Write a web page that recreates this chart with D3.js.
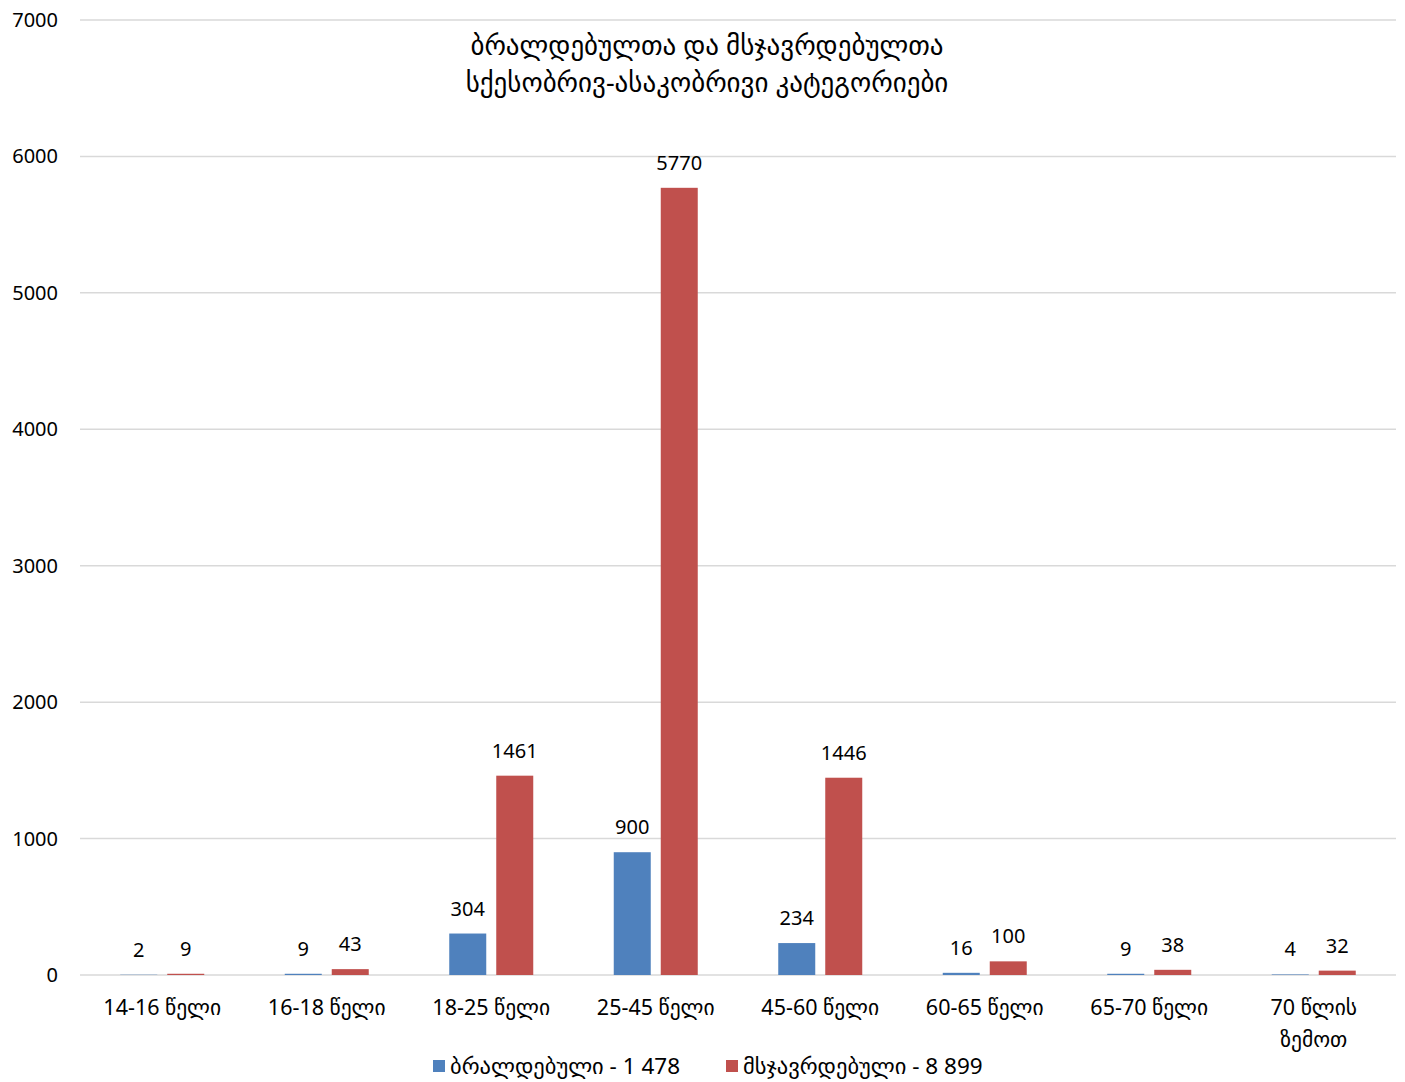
<!DOCTYPE html>
<html><head><meta charset="utf-8">
<script src="https://cdn.jsdelivr.net/npm/d3@7"></script>
<style>body{margin:0;background:#fff;} svg{display:block;} text{font-family:"Noto Sans","DejaVu Sans",sans-serif;}</style>
</head><body>
<svg id="c" width="1405" height="1082"></svg>
<script>
const categories = ["14-16 წელი","16-18 წელი","18-25 წელი","25-45 წელი","45-60 წელი","60-65 წელი","65-70 წელი","70 წლის\nზემოთ"];
const accused = [2,9,304,900,234,16,9,4];
const convicted = [9,43,1461,5770,1446,100,38,32];
const seriesNames = ["ბრალდებული - 1 478","მსჯავრდებული - 8 899"];
const colors = ["#4f81bd","#c0504d"];
const yTicks = [0,1000,2000,3000,4000,5000,6000,7000];
const titleLines = ["ბრალდებულთა და მსჯავრდებულთა","სქესობრივ-ასაკობრივი კატეგორიები"];

(function(){
const svg = d3.select("#c");
const mL = 80, mR = 1396, mT = 20, mB = 975;
const x = d3.scaleBand().domain(categories).range([mL, mR]);
const y = d3.scaleLinear().domain([0,7000]).range([mB, mT]);
const barW = 37, gap = 10;

svg.append("g").selectAll("line").data(yTicks).join("line")
  .attr("x1", mL).attr("x2", mR)
  .attr("y1", d=>y(d)).attr("y2", d=>y(d))
  .attr("stroke","#d9d9d9").attr("stroke-width",1.5);

svg.append("g").selectAll("text").data(yTicks).join("text")
  .attr("x", 58).attr("y", d=>y(d)+7).attr("text-anchor","end")
  .attr("font-size",20).attr("fill","#000").text(d=>d);

const series = [accused, convicted];
series.forEach((vals, si) => {
  const off = si===0 ? -(gap/2+barW) : gap/2;
  const g = svg.append("g");
  g.selectAll("rect").data(vals).join("rect")
    .attr("x",(d,i)=>x(categories[i])+x.bandwidth()/2+off)
    .attr("width",barW)
    .attr("y",d=>y(d)).attr("height",d=>mB-y(d))
    .attr("fill",colors[si]);
  g.selectAll("text").data(vals).join("text")
    .attr("x",(d,i)=>x(categories[i])+x.bandwidth()/2+off+barW/2)
    .attr("y",d=>y(d)-18).attr("text-anchor","middle")
    .attr("font-size",20).attr("fill","#000").text(d=>d);
});

const xl = svg.append("g");
categories.forEach(c=>{
  const lines = c.split("\n");
  lines.forEach((l,li)=>{
    xl.append("text").attr("x", x(c)+x.bandwidth()/2).attr("y", 1015+li*32)
      .attr("text-anchor","middle").attr("font-size",21.5).attr("fill","#000").text(l);
  });
});

titleLines.forEach((t,i)=>{
  svg.append("text").attr("x",707).attr("y",55+i*37).attr("text-anchor","middle")
    .attr("font-size",27).attr("fill","#000").text(t);
});

const legX = [433, 726];
seriesNames.forEach((n,i)=>{
  svg.append("rect").attr("x",legX[i]).attr("y",1060).attr("width",12).attr("height",12).attr("fill",colors[i]);
  svg.append("text").attr("x",legX[i]+17).attr("y",1074).attr("font-size",22.5).attr("fill","#000").text(n);
});
})();
</script>
</body></html>
